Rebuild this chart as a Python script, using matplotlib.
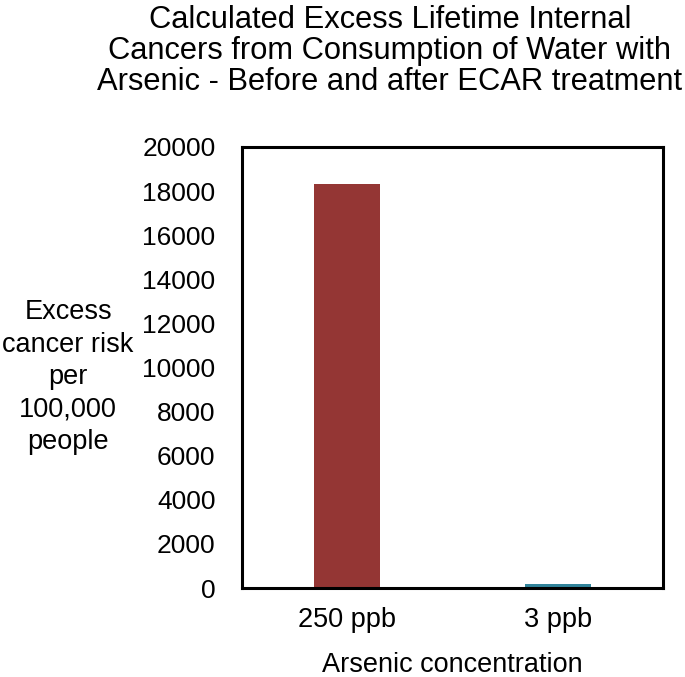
import matplotlib
matplotlib.use("Agg")
import matplotlib.pyplot as plt

categories = ["250 ppb", "3 ppb"]
values = [18300, 200]
colors = ["#943634", "#31849B"]
yticks = [0, 2000, 4000, 6000, 8000, 10000, 12000, 14000, 16000, 18000, 20000]

plt.rcParams['font.family'] = ['Liberation Sans', 'DejaVu Sans']

fig = plt.figure(figsize=(6.85, 6.77), dpi=100)
ax = fig.add_axes([242/685, 1 - 588/677, 421/685, 441/677])

x = list(range(len(categories)))
ax.bar(x, values, width=0.315, color=colors)
ax.set_xlim(-0.5, 1.5)
ax.set_ylim(0, 20000)
ax.set_xticks(x)
ax.set_xticklabels(categories)
ax.set_yticks(yticks)
ax.set_yticklabels([str(v) for v in yticks])
ax.tick_params(axis='both', length=0, colors='black')
ax.tick_params(axis='y', pad=19, labelsize=19)
ax.tick_params(axis='x', pad=14, labelsize=19.5)
for s in ax.spines.values():
    s.set_linewidth(2.2)
    s.set_color('black')

ax.set_xlabel("Arsenic concentration", fontsize=19.5, labelpad=13)
ax.set_ylabel("Excess\ncancer risk\nper\n100,000\npeople", fontsize=19.5, rotation=0,
              ha='center', va='center', linespacing=1.33)
ax.yaxis.set_label_coords(-0.413, 0.478)

fig.text(0.569, 0.993, "Calculated Excess Lifetime Internal\nCancers from Consumption of Water with\nArsenic - Before and after ECAR treatment",
         ha='center', va='top', fontsize=22.2, linespacing=1.05)

fig.savefig("out.png", dpi=100)
